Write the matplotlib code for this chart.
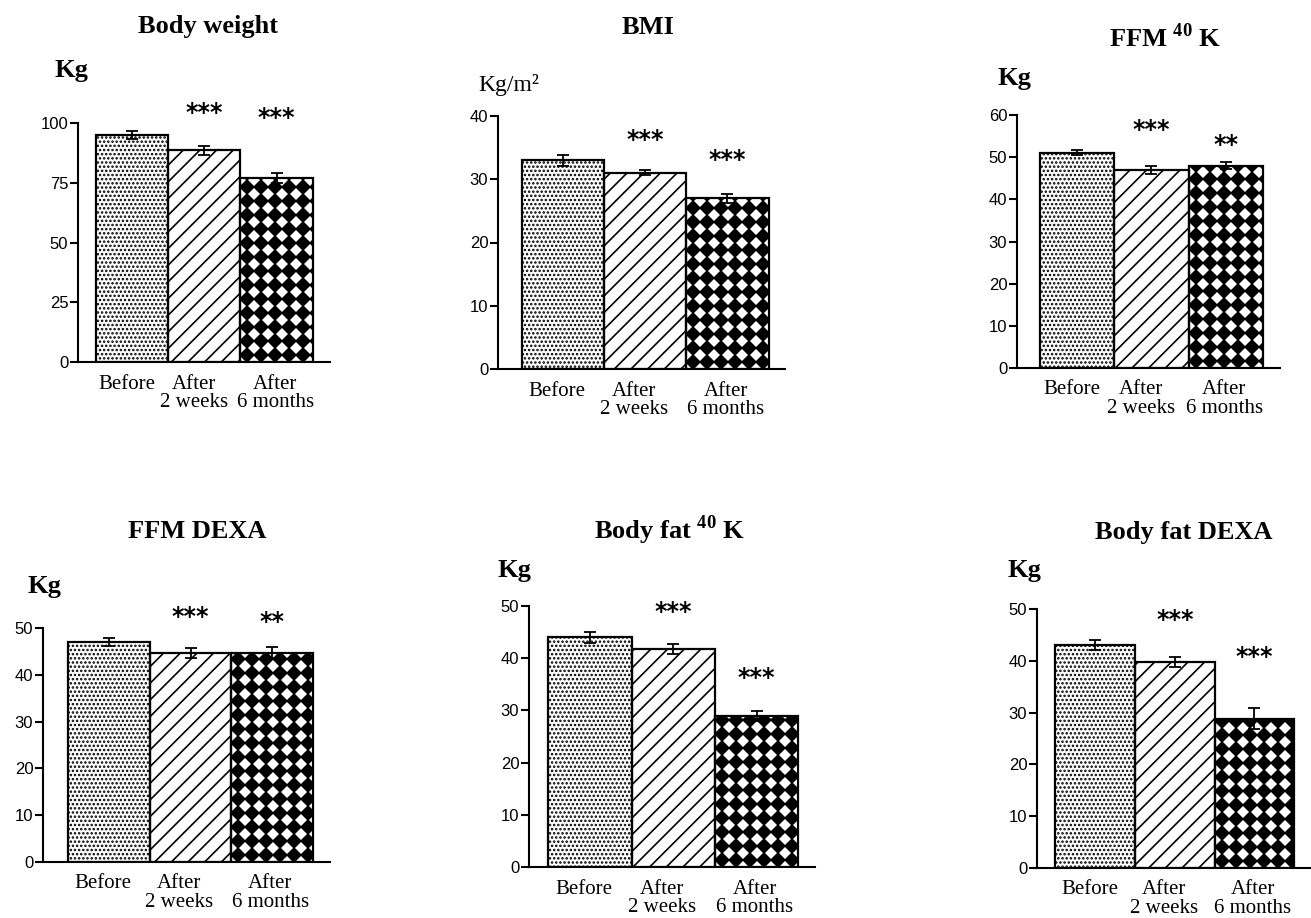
import matplotlib
matplotlib.use("Agg")
import matplotlib.pyplot as plt
import numpy as np

plt.rcParams["mathtext.fontset"] = "custom"
plt.rcParams["mathtext.rm"] = "Liberation Serif"
plt.rcParams["mathtext.bf"] = "Liberation Serif:bold"
plt.rcParams["hatch.linewidth"] = 1.2
plt.rcParams["hatch.color"] = "black"

# ----- data -----
categories = ["Before", "After\n2 weeks", "After\n6 months"]
titles = ["Body weight", "BMI", r"FFM $^{\mathbf{40}}$ K",
          "FFM DEXA", r"Body fat $^{\mathbf{40}}$ K", "Body fat DEXA"]
units = ["Kg", "Kg/m\u00b2", "Kg", "Kg", "Kg", "Kg"]

body_weight = [95, 88.5, 77]
body_weight_err = [1.8, 2.0, 2.0]
bmi = [33, 31, 27]
bmi_err = [0.85, 0.4, 0.7]
ffm_k40 = [51, 47, 48]
ffm_k40_err = [0.6, 1.0, 0.9]
ffm_dexa = [47, 44.7, 44.7]
ffm_dexa_err = [0.9, 1.1, 1.2]
fat_k40 = [44, 41.8, 28.9]
fat_k40_err = [1.0, 1.0, 1.0]
fat_dexa = [43, 39.8, 28.8]
fat_dexa_err = [1.0, 1.0, 2.0]

values = [body_weight, bmi, ffm_k40, ffm_dexa, fat_k40, fat_dexa]
errors = [body_weight_err, bmi_err, ffm_k40_err, ffm_dexa_err, fat_k40_err, fat_dexa_err]
stars = [["", "***", "***"], ["", "***", "***"], ["", "***", "**"],
         ["", "***", "**"], ["", "***", "***"], ["", "***", "***"]]
y_max = [100, 40, 60, 50, 50, 50]
y_step = [25, 10, 10, 10, 10, 10]

# ----- layout (pixels) -----
W, H = 1311, 918
# left, right, top, bottom of each axes, gaps left/right of bars (bar units)
boxes = [(78, 330, 123, 362, 0.25, 0.24),
         (498, 785, 116, 369, 0.29, 0.20),
         (1017, 1280, 115, 368, 0.31, 0.23),
         (43, 330, 628, 862, 0.31, 0.21),
         (529, 815, 606, 867, 0.23, 0.20),
         (1037, 1311, 609, 868, 0.23, 0.21)]
star_pos = [[None, 104, 102], [None, 36.2, 33], [None, 56.4, 52.9],
            [None, 52.4, 51.3], [None, 48.9, 36.2], [None, 47.9, 40.7]]
title_pos = [(208, 27), (648, 28), (1165, 38), (197, 532), (670, 530), (1184, 532)]
unit_pos = [(55, 70), (478, 85), (997, 78), (28, 587), (498, 571), (1007, 571)]
label_shift = [-0.07, -0.14, -0.02]

fig = plt.figure(figsize=(W / 100, H / 100), dpi=100)


def diamond_fill(ax, bar, step=14.0, ms=8.0):
    # black diamonds on a square grid, nearly touching at their tips
    x0, y0 = bar.get_xy()
    (px0, py0), (px1, py1) = ax.transData.transform(
        [(x0, y0), (x0 + bar.get_width(), y0 + bar.get_height())])
    gx, gy = np.meshgrid(np.arange(px0 + 7, px1 + step, step),
                         np.arange(py0 + 7, py1 + step, step))
    pts = np.column_stack([gx.ravel(), gy.ravel()])
    d = ax.transData.inverted().transform(pts)
    line, = ax.plot(d[:, 0], d[:, 1], ls="none", marker="D", ms=ms,
                    color="black", mew=0, zorder=1.5)
    line.set_clip_path(bar)


for i in range(6):
    left, right, top, bottom, lg, rg = boxes[i]
    ax = fig.add_axes([left / W, 1 - bottom / H, (right - left) / W, (bottom - top) / H])
    ax.set_xlim(-0.5 - lg, 2.5 + rg)
    ax.set_ylim(0, y_max[i])
    x = np.arange(3)

    fills = ax.bar(x, values[i], width=1.0, color="white", edgecolor="black",
                   linewidth=0, zorder=1)
    fills[0].set_hatch("....")
    fills[1].set_hatch("//")
    diamond_fill(ax, fills[2])
    ax.bar(x, values[i], width=1.0, fill=False, edgecolor="black",
           linewidth=1.6, zorder=3)
    ax.errorbar(x, values[i], yerr=errors[i], fmt="none", ecolor="black",
                elinewidth=1.3, capsize=4, capthick=1.3, zorder=4)

    for j in range(3):
        if stars[i][j]:
            ax.text(x[j], star_pos[i][j], stars[i][j], ha="center", va="center",
                    fontsize=17, fontweight="bold", family="DejaVu Sans",
                    clip_on=False)

    ax.spines["top"].set_visible(False)
    ax.spines["right"].set_visible(False)
    ax.spines["left"].set_linewidth(1.5)
    ax.spines["bottom"].set_linewidth(1.5)
    ax.set_yticks(np.arange(0, y_max[i] + 1, y_step[i]))
    ax.tick_params(axis="y", length=6, width=1.5, pad=1, labelsize=12)
    for lab in ax.get_yticklabels():
        lab.set_family("Liberation Sans")
    ax.set_xticks(x + np.array(label_shift))
    ax.set_xticklabels(categories, family="Liberation Serif", fontsize=15,
                       linespacing=0.95, va="top")
    ax.tick_params(axis="x", length=0, pad=9)

    fig.text(title_pos[i][0] / W, 1 - title_pos[i][1] / H, titles[i],
             ha="center", va="center", fontsize=19, fontweight="bold",
             family="Liberation Serif")
    fig.text(unit_pos[i][0] / W, 1 - unit_pos[i][1] / H, units[i],
             ha="left", va="center", fontsize=19 if units[i] == "Kg" else 17,
             fontweight="bold" if units[i] == "Kg" else "normal",
             family="Liberation Serif")

fig.savefig("out.png", dpi=100)
